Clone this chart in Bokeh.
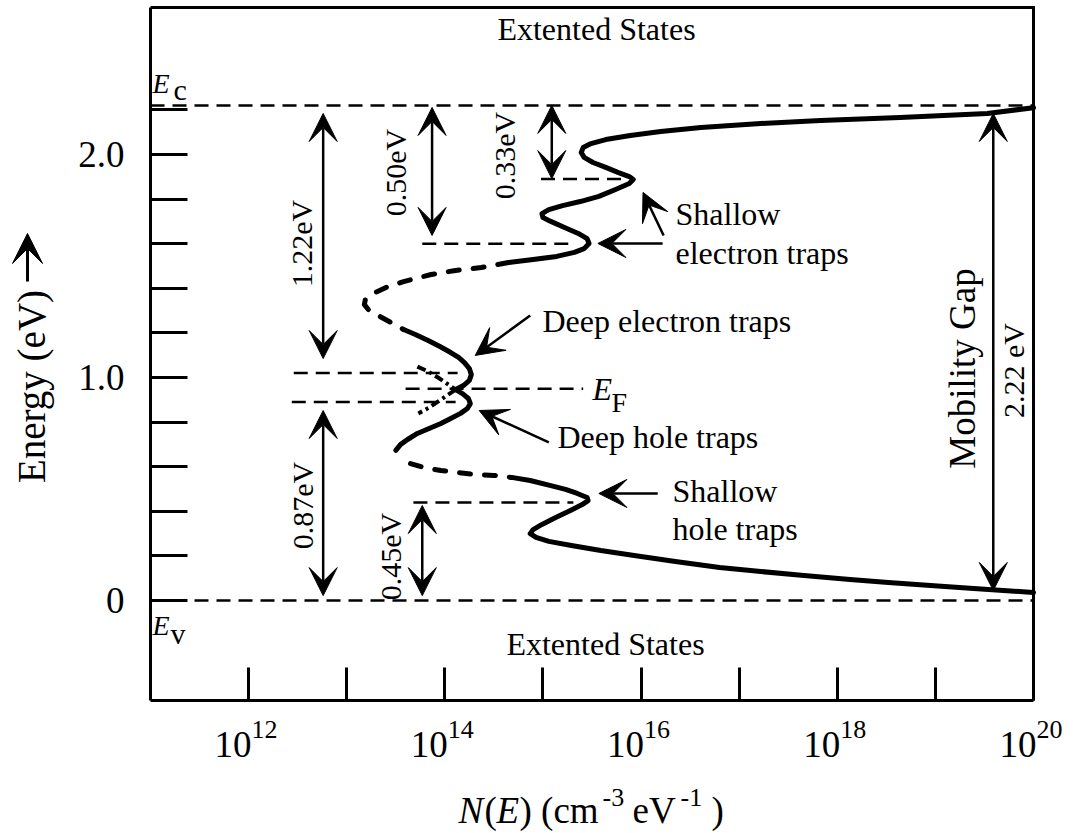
import math
from bokeh.plotting import figure
from bokeh.models import FixedTicker, Label, Arrow, VeeHead
from bokeh.embed import file_html
from bokeh.resources import INLINE

# ---------------- axes ----------------
X_DEC_MIN, X_DEC_MAX = 11, 20          # log10 N(E) range of the box
E_MIN, E_MAX = -0.4484, 2.6592         # energy range of the box (eV)
y_major_ticks = [0, 1, 2]
y_major_text = ["0", "1.0", "2.0"]
y_minor_ticks = [0.2, 0.4, 0.6, 0.8, 1.2, 1.4, 1.6, 1.8, 2.2]
x_tick_exponents = [12, 13, 14, 15, 16, 17, 18, 19, 20]
x_label_exponents = [12, 14, 16, 18, 20]

# ---------------- reference levels (dashed) ----------------
lvl_E = [2.22, 0.00, 1.89, 1.60, 1.02, 0.89, 0.95, 0.44]
lvl_logN_lo = [11.0, 11.0, 14.98, 13.77, 12.46, 12.44, 13.60, 13.68]
lvl_logN_hi = [20.0, 20.0, 15.84, 15.31, 14.13, 14.11, 15.41, 15.31]

# ---------------- density of states curve pieces (log10 N, E) ----------------
# conduction band tail + shallow electron traps (solid)
top_logN = [20.00, 19.53, 18.64, 17.83, 17.22, 16.61, 16.20, 15.89, 15.64, 15.49,
            15.41, 15.39, 15.42, 15.51, 15.64, 15.77, 15.88, 15.92, 15.88, 15.74,
            15.57, 15.38, 15.20, 15.06, 14.99, 15.00, 15.08, 15.22, 15.36, 15.45,
            15.47, 15.42, 15.32, 15.14, 14.90, 14.65]
top_E = [2.210, 2.184, 2.166, 2.152, 2.139, 2.121, 2.103, 2.085, 2.067, 2.049,
         2.031, 2.009, 1.987, 1.964, 1.942, 1.919, 1.901, 1.888, 1.870, 1.843,
         1.812, 1.789, 1.771, 1.753, 1.735, 1.717, 1.700, 1.673, 1.646, 1.623,
         1.601, 1.578, 1.561, 1.543, 1.529, 1.516]
# upper dashed arc
arcu_logN = [14.65, 14.37, 14.11, 13.86, 13.58, 13.40, 13.27, 13.19, 13.18, 13.22, 13.32, 13.45, 13.58]
arcu_E = [1.516, 1.493, 1.480, 1.462, 1.430, 1.404, 1.377, 1.350, 1.327, 1.305, 1.278, 1.247, 1.215]
# deep electron traps (solid outer part)
de_logN = [13.58, 13.70, 13.83, 13.95, 14.06, 14.14, 14.20, 14.25, 14.27, 14.25, 14.19, 14.11]
de_E = [1.215, 1.193, 1.166, 1.139, 1.112, 1.090, 1.067, 1.040, 1.013, 0.987, 0.964, 0.946]
# deep electron traps (dash-dot inner tail)
de_tail_logN = [14.11, 14.02, 13.93, 13.84, 13.73]
de_tail_E = [0.946, 0.919, 0.892, 0.865, 0.839]
# deep hole traps (dash-dot inner tail)
dh_tail_logN = [13.72, 13.83, 13.93, 14.02, 14.11]
dh_tail_E = [1.049, 1.027, 1.000, 0.973, 0.946]
# deep hole traps (solid outer part)
dh_logN = [14.11, 14.18, 14.24, 14.26, 14.23, 14.16, 14.06, 13.96, 13.84, 13.72, 13.62, 13.55, 13.50]
dh_E = [0.946, 0.928, 0.906, 0.883, 0.861, 0.839, 0.816, 0.794, 0.771, 0.749, 0.722, 0.700, 0.673]
# lower dashed arc
arcl_logN = [13.65, 13.79, 13.96, 14.13, 14.32, 14.50, 14.68]
arcl_E = [0.614, 0.596, 0.583, 0.574, 0.565, 0.561, 0.552]
# shallow hole traps + valence band tail (solid)
bot_logN = [14.68, 14.87, 15.07, 15.23, 15.35, 15.45, 15.46, 15.40, 15.28, 15.13,
            14.99, 14.90, 14.87, 14.93, 15.06, 15.29, 15.59, 15.93, 16.35, 16.80,
            17.22, 17.66, 18.13, 18.52, 18.95, 19.39, 20.00]
bot_E = [0.552, 0.538, 0.516, 0.498, 0.480, 0.462, 0.448, 0.430, 0.404, 0.372,
         0.341, 0.318, 0.300, 0.283, 0.265, 0.247, 0.224, 0.202, 0.175, 0.148,
         0.130, 0.112, 0.094, 0.081, 0.067, 0.054, 0.036]

# ---------------- energy-gap measurements (double arrows) ----------------
meas_text = ["1.22eV", "0.87eV", "0.50eV", "0.33eV", "0.45eV", "2.22 eV"]
meas_logN = [12.76, 12.76, 13.87, 15.09, 13.77, 19.59]
meas_E_lo = [1.085, 0.022, 1.637, 1.892, 0.022, 0.045]
meas_E_hi = [2.184, 0.852, 2.211, 2.220, 0.426, 2.184]

# ---------------- pointer arrows ----------------
ptr_tail_logN = [16.22, 16.23, 14.87, 15.06, 16.17]
ptr_tail_E = [1.601, 1.637, 1.278, 0.709, 0.480]
ptr_tip_logN = [15.56, 16.02, 14.31, 14.35, 15.57]
ptr_tip_E = [1.601, 1.830, 1.099, 0.852, 0.480]

# ---------------- layout (canvas px) ----------------
W, H = 1073, 833
FL, FR, FT, FB = 150, 1033, 7, 700     # where the box sits on the canvas
FONT = "Liberation Serif"


def X(px):
    return 10 ** (X_DEC_MIN + (px - FL) * (X_DEC_MAX - X_DEC_MIN) / (FR - FL))


def Y(py):
    return E_MAX - (py - FT) * (E_MAX - E_MIN) / (FB - FT)


# The frame covers the whole canvas; the axes are pinned to the edges of the box.
p = figure(width=W, height=H, x_axis_type="log",
           x_range=(X(0), X(W)), y_range=(Y(H), Y(0)),
           output_backend="svg", toolbar_location=None, min_border=0)
if p.title is not None:
    p.title.visible = False
p.xgrid.visible = False
p.ygrid.visible = False
p.outline_line_color = None
p.background_fill_color = "white"
p.border_fill_color = "white"

N_LO, N_HI = 10.0 ** X_DEC_MIN, 10.0 ** X_DEC_MAX

# y axis (left edge of the box)
ya = p.yaxis[0]
ya.fixed_location = N_LO
ya.bounds = (E_MIN, E_MAX)
ya.ticker = FixedTicker(ticks=y_major_ticks, minor_ticks=y_minor_ticks)
ya.major_label_overrides = {t: s for t, s in zip(y_major_ticks, y_major_text)}
ya.axis_line_width = 3
ya.major_tick_in = 37
ya.major_tick_out = 0
ya.minor_tick_in = 37
ya.minor_tick_out = 0
ya.major_tick_line_width = 3
ya.minor_tick_line_width = 3
ya.major_label_text_font = FONT
ya.major_label_text_font_size = "37px"
ya.major_label_text_color = "black"
ya.major_label_standoff = 26

# x axis (bottom edge of the box)
xa = p.xaxis[0]
xa.fixed_location = E_MIN
xa.bounds = (N_LO, N_HI)
xt = [10.0 ** e for e in x_tick_exponents]
xa.ticker = FixedTicker(ticks=xt)
xa.major_label_overrides = {t: "" for t in xt}
xa.major_label_text_font_size = "1px"
xa.axis_line_width = 3
xa.major_tick_in = 33
xa.major_tick_out = 0
xa.major_tick_line_width = 3
xa.minor_tick_in = 0
xa.minor_tick_out = 0

# top and right edges of the box
p.line([N_LO, N_HI, N_HI], [E_MAX, E_MAX, E_MIN], line_color="black", line_width=3,
       line_join="miter")

# dashed reference levels
for e, lo, hi in zip(lvl_E, lvl_logN_lo, lvl_logN_hi):
    p.line([10 ** lo, 10 ** hi], [e, e], line_color="black", line_width=2.5, line_dash="14 8")


def N(vals):
    return [10 ** v for v in vals]


solid = dict(line_color="black", line_width=5, line_join="round", line_cap="round")
p.line(N(top_logN), top_E, **solid)
p.line(N(de_logN), de_E, **solid)
p.line(N(dh_logN), dh_E, **solid)
p.line(N(bot_logN), bot_E, **solid)
dashed = dict(line_color="black", line_width=5, line_join="round", line_cap="round", line_dash="11 14")
p.line(N(arcu_logN), arcu_E, **dashed)
p.line(N(arcl_logN), arcl_E, **dashed)
dashdot = dict(line_color="black", line_width=4, line_dash="9 4 3 4")
p.line(N(de_tail_logN), de_tail_E, **dashdot)
p.line(N(dh_tail_logN), dh_tail_E, **dashdot)


def head(size=28):
    return VeeHead(size=size, fill_color="black", line_color="black", line_width=1)


for lx, lo, hi in zip(meas_logN, meas_E_lo, meas_E_hi):
    p.add_layout(Arrow(start=head(), end=head(), x_start=10 ** lx, y_start=lo,
                       x_end=10 ** lx, y_end=hi, line_width=2.5, line_color="black"))

for tx, ty, hx, hy in zip(ptr_tail_logN, ptr_tail_E, ptr_tip_logN, ptr_tip_E):
    p.add_layout(Arrow(end=head(), x_start=10 ** tx, y_start=ty, x_end=10 ** hx, y_end=hy,
                       line_width=2.5, line_color="black"))


def lab(px, py, text, size, align="left", angle=0.0, style="normal"):
    p.add_layout(Label(x=X(px), y=Y(py), text=text, text_font=FONT,
                       text_font_size=f"{size}px", text_align=align,
                       text_baseline="middle", angle=angle, text_font_style=style,
                       text_color="black"))


def labb(px, base, text, size, align="left", style="normal"):
    # place a label by the canvas row of its baseline
    lab(px, base - 0.35 * size, text, size, align=align, style=style)


# measurement texts (rotated)
meas_pos = [(301, 243), (302, 505), (395, 172), (504, 155), (390, 556), (1013, 370)]
for (cx, cy), t in zip(meas_pos, meas_text):
    lab(cx, cy, t, 30, align="center", angle=math.pi / 2)
lab(962, 368, "Mobility Gap", 37, align="center", angle=math.pi / 2)

# region / trap annotations
lab(596, 28, "Extented States", 32, align="center")
lab(605, 643, "Extented States", 32, align="center")
lab(675, 213, "Shallow", 32)
lab(675, 252, "electron traps", 32)
lab(542, 320, "Deep electron traps", 32)
lab(557, 436, "Deep hole traps", 32)
lab(672, 490, "Shallow", 32)
lab(672, 528, "hole traps", 32)

# band edge / Fermi level symbols
labb(152, 93, "E", 28, style="italic")
labb(173, 99, "c", 30)
labb(152, 635, "E", 28, style="italic")
labb(170, 643, "v", 30)
labb(592, 400, "E", 32, style="italic")
labb(611, 412, "F", 28)

# x tick labels 10^n
for e in x_label_exponents:
    tx = FL + (e - X_DEC_MIN) * (FR - FL) / (X_DEC_MAX - X_DEC_MIN)
    labb(tx + 3, 757, "10", 37, align="right")
    labb(tx + 3, 738, str(e), 26)

# x axis title  N(E) (cm^-3 eV^-1 )
labb(458, 823, "N", 37, style="italic")
labb(484, 823, "(", 37)
labb(496, 823, "E", 37, style="italic")
labb(519, 823, ") (cm", 37)
labb(602, 806, "-3", 26)
labb(632, 823, "eV", 37)
labb(680, 806, "-1", 26)
labb(711, 823, ")", 37)

# y axis title with its arrow
lab(31, 386, "Energy (eV)", 39, align="center", angle=math.pi / 2)
p.add_layout(Arrow(end=head(30), x_start=X(27), y_start=Y(281), x_end=X(27), y_end=Y(233),
                   line_width=3, line_color="black"))

open("out.html", "w").write(file_html(p, INLINE))
